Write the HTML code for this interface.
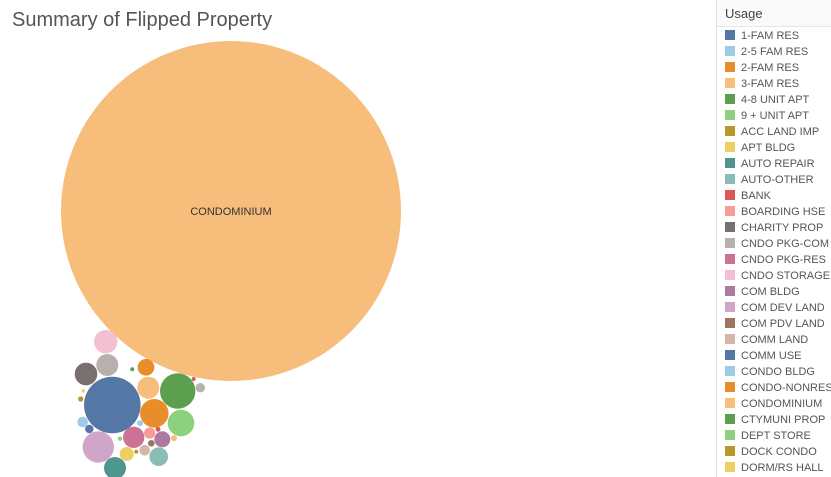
<!DOCTYPE html>
<html><head><meta charset="utf-8"><style>
body{margin:0;width:831px;height:477px;overflow:hidden;background:#fff;font-family:"Liberation Sans",sans-serif;position:relative}
#title{position:absolute;left:12px;top:9px;font-size:20px;color:#555;}
#legend{position:absolute;left:716px;top:0;width:115px;height:477px;border-left:1px solid #e0e0e0;background:#fff}
#legend .hdr{height:26px;line-height:28px;padding-left:8px;font-size:13px;color:#444;border-bottom:1px solid #e6e6e6;background:#fafafa}
.row{position:absolute;left:8px;font-size:11px;color:#555;height:16px;line-height:16px;white-space:nowrap}
.sw{display:inline-block;width:10px;height:10px;margin-right:6px;vertical-align:-1px}
</style></head><body>
<div id="title">Summary of Flipped Property</div>
<svg id="chart" width="716" height="477" style="position:absolute;left:0;top:0"></svg>
<div id="legend"><div class="hdr">Usage</div></div>
<script>
const categories=["1-FAM RES","2-5 FAM RES","2-FAM RES","3-FAM RES","4-8 UNIT APT","9 + UNIT APT","ACC LAND IMP","APT BLDG","AUTO REPAIR","AUTO-OTHER","BANK","BOARDING HSE","CHARITY PROP","CNDO PKG-COM","CNDO PKG-RES","CNDO STORAGE","COM BLDG","COM DEV LAND","COM PDV LAND","COMM LAND","COMM USE","CONDO BLDG","CONDO-NONRES","CONDOMINIUM","CTYMUNI PROP","DEPT STORE","DOCK CONDO","DORM/RS HALL"];
const colors=["#5577a6","#a0cbe8","#e98d2b","#f6be7a","#5ca04f","#8cd17d","#b6992d","#edcf63","#4f9690","#8bbcb6","#dc5759","#f69d9a","#77706e","#b8b0ac","#cc7295","#f3bfd2","#ac7aa1","#cfa6c8","#9a7660","#d4b5a6","#5577a6","#a0cbe8","#e98d2b","#f6be7a","#5ca04f","#8cd17d","#b6992d","#edcf63"];
// bubble values (count) by category index
const bubbleCat=[23,0,17,15,12,13,22,3,4,5,2,14,9,8,1,16,11,7,19,18,20,6,21,10,24,25,26,27,3,13,10];
const bubbleVal=[28900,800,246,137,128,121,70,121,313,177,204,114,87,121,28,64,32,49,28,11,18,7,9,6,4,5,4,3,9,22,4];
// packed-layout centers
const bubbleX=[231,112.3,98.3,105.7,86,107.3,146,148.3,177.7,181,154.3,133.7,158.7,115,82.7,162.3,149.7,126.7,144.7,151.3,89.3,80.7,140,158,132.3,120,136.3,83.3,174,200.3,193.7];
const bubbleY=[211,405,447,341.7,374,365,367.3,387.7,391,423,413.3,437.3,456.7,468,422,439.3,433,454,450.3,443.3,429,399,423.3,429.3,369.3,438.7,451.7,391,438.3,387.7,379];
const rScale=v=>Math.sqrt(v)*1.0;
const NS="http://www.w3.org/2000/svg",svg=document.getElementById('chart');
bubbleVal.forEach((v,i)=>{
 const c=document.createElementNS(NS,'circle');
 c.setAttribute('cx',bubbleX[i]);c.setAttribute('cy',bubbleY[i]);
 c.setAttribute('r',rScale(v)*(i===0?170/Math.sqrt(28900):1));
 c.setAttribute('fill',colors[bubbleCat[i]]);
 
 
 svg.appendChild(c);
});
const t=document.createElementNS(NS,'text');
t.setAttribute('x',231);t.setAttribute('y',215);t.setAttribute('text-anchor','middle');
t.setAttribute('font-size','11');t.setAttribute('fill','#333');t.setAttribute('font-family','Liberation Sans, sans-serif');
t.textContent='CONDOMINIUM';


svg.appendChild(t);
const lg=document.getElementById('legend');
categories.forEach((c,i)=>{
 const d=document.createElement('div');d.className='row';d.style.top=(28+i*16)+'px';
 d.innerHTML='<span class="sw" style="background:'+colors[i]+'"></span>'+c;
 
 
 lg.appendChild(d);
});
</script>
</body></html>
